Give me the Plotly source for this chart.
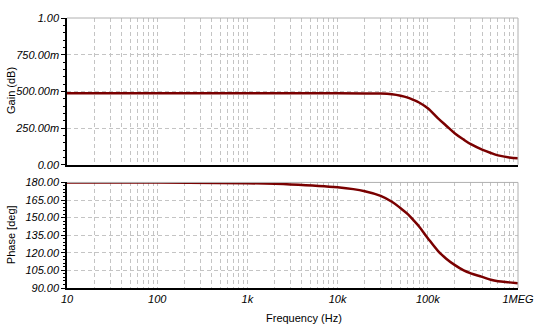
import plotly.graph_objects as go

freq = [10, 100, 1000, 3000, 10000, 20000, 30000, 40000, 50000, 60000, 70000, 80000, 100000,
        130000, 160000, 200000, 250000, 300000, 400000, 500000, 600000, 800000, 1000000]
gain = [0.487, 0.487, 0.487, 0.487, 0.487, 0.486, 0.485, 0.48, 0.47, 0.457, 0.441, 0.424, 0.385,
        0.316, 0.266, 0.213, 0.171, 0.14, 0.103, 0.08, 0.064, 0.05, 0.045]
phase = [180, 179.9, 179.3, 178.3, 175.8, 172.5, 168.5, 163.5, 158, 153, 147.5, 142.5, 132.5,
         121.5, 115, 109.5, 105, 102.5, 99.5, 97, 95.8, 94.8, 94]

gain_ticks = [0, 0.25, 0.5, 0.75, 1.0]
gain_labels = ["0.00", "250.00m", "500.00m", "750.00m", "1.00"]
phase_ticks = [90, 105, 120, 135, 150, 165, 180]
phase_labels = ["90.00", "105.00", "120.00", "135.00", "150.00", "165.00", "180.00"]
freq_ticks = [10, 100, 1000, 10000, 100000, 1000000]
freq_labels = ["10", "100", "1k", "10k", "100k", "1MEG"]


def ital(labels):
    return ["<i>" + s + "</i>" for s in labels]


minor_x = [m * 10 ** k for k in range(1, 6) for m in range(2, 10)]

line_color = "#7a0000"
grid_color = "#c4c4c4"
gdash = "4px,3px"
tick_font = dict(family="Arial, Liberation Sans", size=11, color="#000")

fig = go.Figure()
fig.add_trace(go.Scatter(x=freq, y=gain, mode="lines", line=dict(color=line_color, width=2.5, shape="spline"),
                         xaxis="x", yaxis="y", showlegend=False))
fig.add_trace(go.Scatter(x=freq, y=phase, mode="lines", line=dict(color=line_color, width=2.5, shape="spline"),
                         xaxis="x2", yaxis="y2", showlegend=False))

xcommon = dict(type="log", range=[1, 6], showgrid=True, gridcolor=grid_color, griddash=gdash, gridwidth=1,
               tickvals=freq_ticks, showline=True, linecolor="#000", linewidth=1.5, ticks="", zeroline=False,
               minor=dict(tickvals=minor_x, showgrid=True, gridcolor=grid_color, griddash=gdash, ticks=""))

fig.update_layout(
    width=546, height=335,
    margin=dict(l=67, r=26, t=12, b=47),
    plot_bgcolor="white", paper_bgcolor="white",
    xaxis=dict(xcommon, anchor="y", showticklabels=False),
    xaxis2=dict(xcommon, anchor="y2", ticktext=ital(freq_labels), tickfont=tick_font, matches="x"),
    yaxis=dict(domain=[0.4565, 1], range=[0, 1], tickvals=gain_ticks, ticktext=ital(gain_labels),
               tickfont=tick_font, showgrid=True, gridcolor=grid_color, griddash=gdash,
               showline=True, linecolor="#000", linewidth=1.5, ticks="outside", ticklen=4,
               tickcolor="#000", zeroline=False, anchor="x",
               minor=dict(dtick=0.05, ticks="outside", ticklen=2, tickcolor="#000", showgrid=False)),
    yaxis2=dict(domain=[0, 0.391], range=[90, 180], tickvals=phase_ticks, ticktext=ital(phase_labels),
                tickfont=tick_font, showgrid=True, gridcolor=grid_color, griddash=gdash,
                showline=True, linecolor="#000", linewidth=1.5, ticks="outside", ticklen=4,
                tickcolor="#000", zeroline=False, anchor="x2",
                minor=dict(dtick=3, ticks="outside", ticklen=2, tickcolor="#000", showgrid=False)),
)

border = dict(color="#b0b0b0", width=1)
for xr, yr in [("x domain", "y domain"), ("x2 domain", "y2 domain")]:
    fig.add_shape(type="line", xref=xr, yref=yr, x0=0, x1=1, y0=1, y1=1, line=border)
    fig.add_shape(type="line", xref=xr, yref=yr, x0=1, x1=1, y0=0, y1=1, line=border)

title_font = dict(family="Arial, Liberation Sans", size=11, color="#000")
fig.add_annotation(text="Frequency (Hz)", xref="paper", yref="paper", x=0.525, y=-0.112,
                   showarrow=False, font=title_font, xanchor="center", yanchor="middle")
fig.add_annotation(text="Gain (dB)", xref="paper", yref="paper", x=-0.124, y=0.73,
                   showarrow=False, font=title_font, textangle=-90, xanchor="center", yanchor="middle")
fig.add_annotation(text="Phase [deg]", xref="paper", yref="paper", x=-0.124, y=0.196,
                   showarrow=False, font=title_font, textangle=-90, xanchor="center", yanchor="middle")

fig.write_html("out.html")
